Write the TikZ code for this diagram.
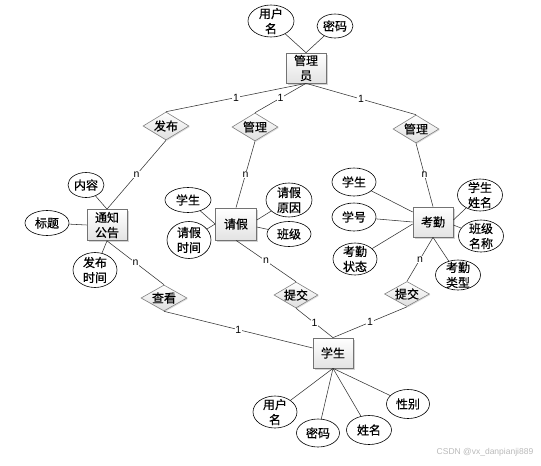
\documentclass[tikz,border=0pt]{standalone}
\usepackage{fontspec}
\setmainfont{Liberation Sans}
\newfontfamily\cjk[FakeBold=0.6]{Noto Sans CJK SC}
\usetikzlibrary{shapes.geometric,shadows}
\newcommand{\cjkf}{\cjk\fontsize{12}{15}\selectfont}
\tikzset{
  ent/.style={rectangle, draw=gray!90!black, top color=white, bottom color=gray!22,
    minimum width=40pt, minimum height=30pt, inner sep=0pt, font=\cjkf, align=center,
    line width=0.7pt,
    drop shadow={opacity=0.35, shadow xshift=1.5pt, shadow yshift=-1.5pt}},
  attr/.style={ellipse, draw=black, fill=white, inner sep=0pt, line width=0.6pt},
  rel/.style={diamond, draw=gray, top color=white, bottom color=gray!25,
    inner sep=0pt, minimum width=46pt, minimum height=28pt, line width=0.6pt,
    drop shadow={opacity=0.25, shadow xshift=1pt, shadow yshift=-1pt}},
  every label/.style={align=center, font=\cjkf, inner sep=0pt},
  conn/.style={draw=gray!40!black, line width=0.55pt},
  lbl/.style={fill=white, inner sep=0.6pt, font=\fontsize{10.5}{11}\selectfont},
}
\begin{document}
\begin{tikzpicture}[x=1pt,y=-1pt]
\useasboundingbox (0,0) rectangle (541,466);
% entities
\node[ent] (admin) at (306,68) {管理\\员};
\node[ent, minimum width=40pt, minimum height=31pt] (notice) at (107,225) {通知\\公告};
\node[ent, minimum width=41pt, minimum height=32pt] (leave) at (236,224) {请假};
\node[ent] (kq) at (433,222) {考勤};
\node[ent] (stu) at (333,353) {学生};
% relations
\node[rel, label={center:发布}] (fabu) at (166,126) {};
\node[rel, label={center:管理}] (gl1) at (255,127) {};
\node[rel, label={center:管理}] (gl2) at (416,129) {};
\node[rel, minimum height=26pt, label={center:查看}] (chakan) at (164,298) {};
\node[rel, minimum width=44pt, minimum height=26pt, label={center:提交}] (tj1) at (296,295) {};
\node[rel, minimum width=45pt, minimum height=25pt, label={center:提交}] (tj2) at (407,294) {};
% attributes of admin
\node[attr, minimum width=46pt, minimum height=32pt, label={center:{用户\\名}}] (auser) at (271,21) {};
\node[attr, minimum width=36pt, minimum height=24pt, label={center:密码}] (apwd) at (335,26) {};
% attributes of notice
\node[attr, minimum width=36pt, minimum height=25pt, label={center:内容}] (ncont) at (86,185) {};
\node[attr, minimum width=44pt, minimum height=25pt, label={center:标题}] (ntitle) at (47,223) {};
\node[attr, minimum width=44pt, minimum height=35pt, label={center:{发布\\时间}}] (ntime) at (95,270) {};
% attributes of leave
\node[attr, minimum width=46pt, minimum height=25pt, label={center:学生}] (lstu) at (188,200) {};
\node[attr, minimum width=44pt, minimum height=37pt, label={center:{请假\\时间}}] (ltime) at (189,240) {};
\node[attr, minimum width=46pt, minimum height=34pt, label={center:{请假\\原因}}] (lreason) at (289,200) {};
\node[attr, minimum width=44pt, minimum height=25pt, label={center:班级}] (lclass) at (289,234) {};
% attributes of kq
\node[attr, minimum width=44pt, minimum height=28pt, label={center:学生}] (kstu) at (354,182) {};
\node[attr, minimum width=44pt, minimum height=28pt, label={center:学号}] (kno) at (354,217) {};
\node[attr, minimum width=44pt, minimum height=32pt, label={center:{考勤\\状态}}] (kstate) at (355,259) {};
\node[attr, minimum width=45pt, minimum height=32pt, label={center:{学生\\姓名}}] (kname) at (480,195) {};
\node[attr, minimum width=45pt, minimum height=32pt, label={center:{班级\\名称}}] (kcls) at (481,236) {};
\node[attr, minimum width=45pt, minimum height=30pt, label={center:{考勤\\类型}}] (ktype) at (458,275) {};
% attributes of student
\node[attr, minimum width=44pt, minimum height=32pt, label={center:{用户\\名}}] (suser) at (275,412) {};
\node[attr, minimum width=43pt, minimum height=28pt, label={center:密码}] (spwd) at (318,433) {};
\node[attr, minimum width=45pt, minimum height=29pt, label={center:姓名}] (sname) at (369,430) {};
\node[attr, minimum width=43pt, minimum height=29pt, label={center:性别}] (ssex) at (408,404) {};
% connectors
\draw[conn] (auser) -- (admin.north);
\draw[conn] (apwd) -- (admin.north);
\draw[conn] (admin.south) -- node[lbl]{1} (fabu.north);
\draw[conn] (admin.south) -- node[lbl]{1} (gl1.north);
\draw[conn] (admin.south) -- node[lbl]{1} (gl2.north);
\draw[conn] (fabu.south) -- node[lbl]{n} (notice.north);
\draw[conn] (gl1.south) -- node[lbl]{n} (leave.north);
\draw[conn] (gl2.south) -- node[lbl]{n} (kq.north);
\draw[conn] (notice.south) -- node[lbl]{n} (chakan.north);
\draw[conn] (chakan.south) -- node[lbl]{1} (stu);
\draw[conn] (leave.south) -- node[lbl]{n} (tj1.north);
\draw[conn] (tj1.south) -- node[lbl]{1} (stu.north);
\draw[conn] (kq.south) -- node[lbl]{n} (tj2.north);
\draw[conn] (tj2.south) -- node[lbl]{1} (stu.north);
\draw[conn] (ncont) -- (notice.north);
\draw[conn] (ntitle) -- (notice.west);
\draw[conn] (ntime) -- (notice.south);
\draw[conn] (lstu) -- (leave.west);
\draw[conn] (ltime) -- (leave.west);
\draw[conn] (lreason) -- ([yshift=4pt]leave.east);
\draw[conn] (lclass) -- ([yshift=-3pt]leave.east);
\draw[conn] (kstu) -- ([yshift=10pt]kq.west);
\draw[conn] (kno) -- (kq.west);
\draw[conn] (kstate) -- ([yshift=-2pt]kq.west);
\draw[conn] (kname) -- ([yshift=2pt]kq.east);
\draw[conn] (kcls) -- ([yshift=-3pt]kq.east);
\draw[conn] (ktype) -- (kq.south);
\draw[conn] (suser) -- (stu.south);
\draw[conn] (spwd) -- (stu.south);
\draw[conn] (sname) -- (stu.south);
\draw[conn] (ssex) -- (stu.south);
% watermark
\node[font=\fontsize{8.5}{9}\selectfont, text=gray!55, inner sep=0pt] (wm) at (485,452) {CSDN @vx\_danpianji889};
\end{tikzpicture}
\end{document}
